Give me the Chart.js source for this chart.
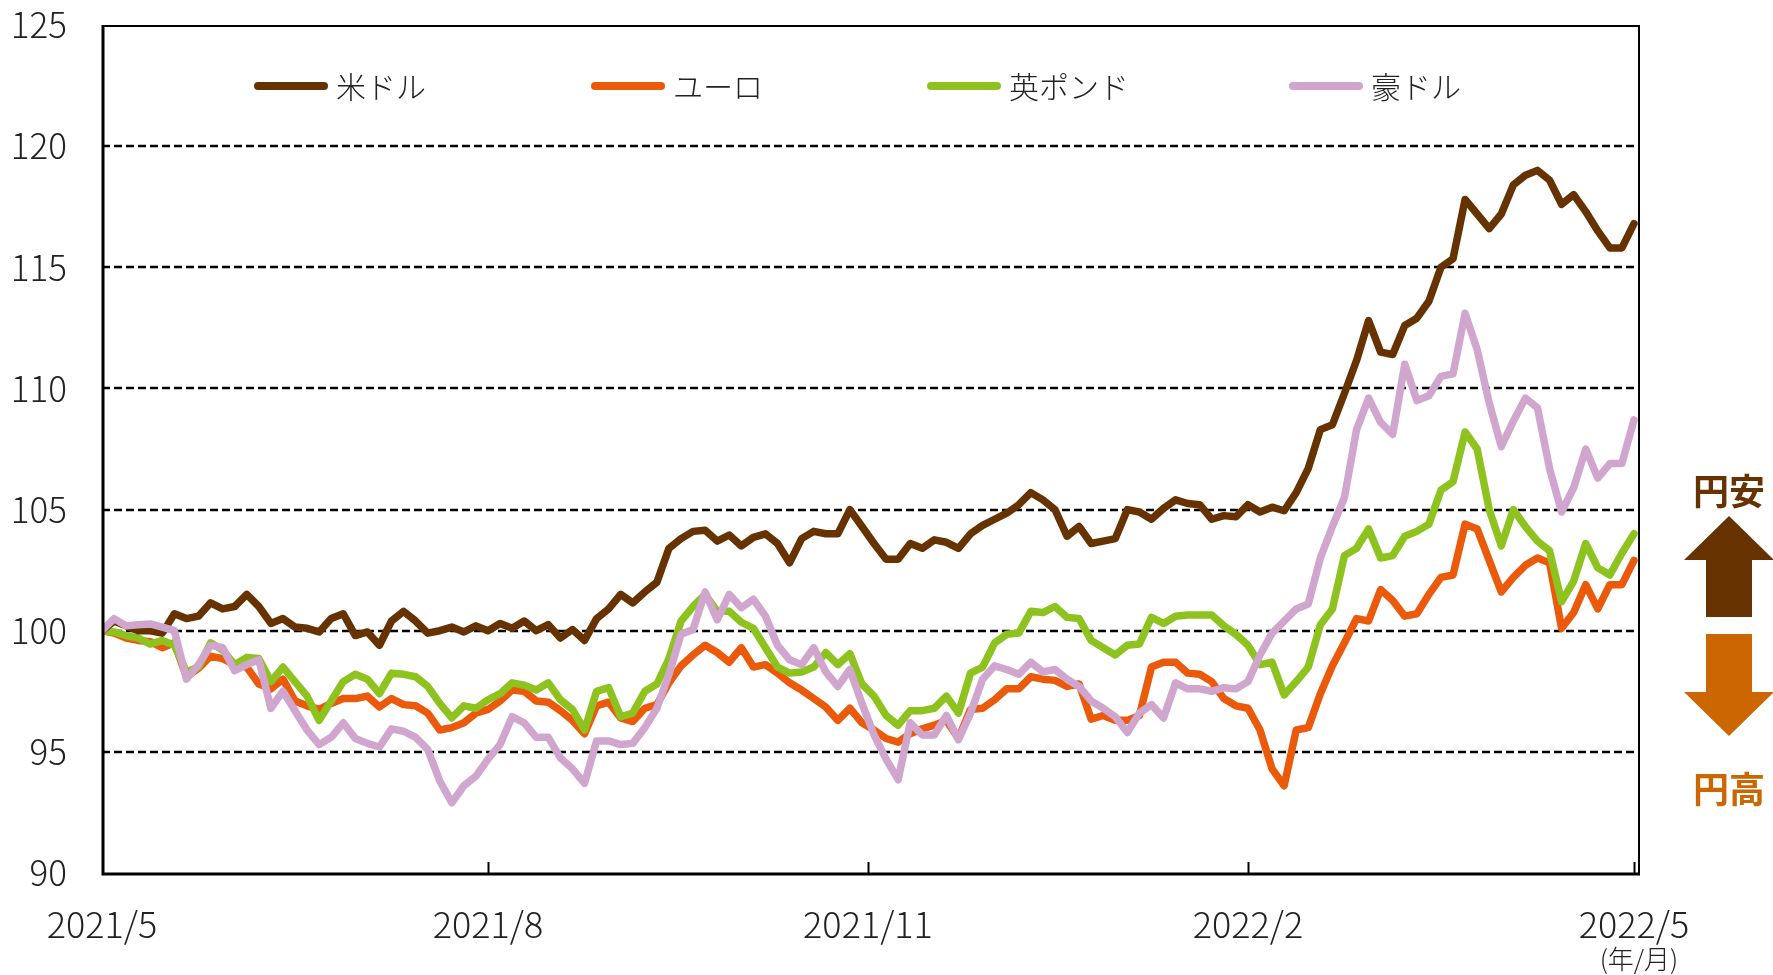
<!DOCTYPE html>
<html lang="ja">
<head>
<meta charset="utf-8">
<title>為替レートの推移</title>
<script src="https://cdn.jsdelivr.net/npm/chart.js@4.4.1/dist/chart.umd.min.js"></script>
<style>
  html, body { margin: 0; padding: 0; background: #fff; }
  #wrap { width: 1773px; height: 975px; }
</style>
</head>
<body>
<div id="wrap"><canvas id="fxChart" width="1773" height="975"></canvas></div>
<script>
// --- 対円レートの推移（2021/5 = 100、2営業日ごとに読み取り） ---

const STEP = 2; // 営業日
const seriesNames = ['米ドル', 'ユーロ', '英ポンド', '豪ドル'];
const seriesColors = ['#663300', '#EB5A0B', '#8DC21F', '#D0A6CE'];

const usd = [
    100.0, 100.4, 100.2, 100.0, 100.0, 99.9, 100.7, 100.5, 100.6, 101.15, 100.9, 101.0, 101.5, 101.0, 100.3, 100.5,
    100.15, 100.1, 99.95, 100.5, 100.7, 99.8, 99.95, 99.4, 100.4, 100.8, 100.4, 99.9, 100.0, 100.15, 99.95, 100.2,
    100.0, 100.3, 100.1, 100.4, 100.0, 100.25, 99.7, 100.05, 99.6, 100.5, 100.9, 101.5, 101.15, 101.6, 102.0, 103.4,
    103.8, 104.1, 104.15, 103.7, 103.95, 103.5, 103.85, 104.0, 103.6, 102.8, 103.8, 104.1, 104.0, 104.0, 105.0, 104.3,
    103.6, 102.95, 102.95, 103.6, 103.4, 103.75, 103.65, 103.4, 104.0, 104.35, 104.6, 104.85, 105.2, 105.7, 105.4, 105.0,
    103.9, 104.3, 103.6, 103.7, 103.8, 105.0, 104.9, 104.6, 105.05, 105.4, 105.25, 105.2, 104.6, 104.75, 104.7, 105.2,
    104.9, 105.1, 104.95, 105.7, 106.7, 108.3, 108.5, 109.8, 111.15, 112.8, 111.5, 111.4, 112.6, 112.9, 113.6, 115.0,
    115.35, 117.8, 117.2, 116.6, 117.2, 118.4, 118.8, 119.0, 118.6, 117.6, 118.0, 117.3, 116.5, 115.8, 115.8, 116.8
];
const eur = [
    100.0, 99.9, 99.7, 99.6, 99.55, 99.3, 99.5, 98.1, 98.45, 98.95, 98.85, 98.6, 98.5, 97.8, 97.6, 98.0,
    97.1, 96.9, 96.75, 97.0, 97.2, 97.2, 97.3, 96.85, 97.2, 96.95, 96.9, 96.6, 95.9, 96.0, 96.2, 96.6,
    96.75, 97.1, 97.55, 97.5, 97.1, 97.05, 96.7, 96.3, 95.75, 96.9, 97.05, 96.4, 96.25, 96.8, 96.95, 97.85,
    98.55, 99.0, 99.4, 99.1, 98.7, 99.3, 98.5, 98.6, 98.25, 97.85, 97.55, 97.2, 96.85, 96.3, 96.8, 96.2,
    95.9, 95.55, 95.4, 95.75, 95.95, 96.1, 96.3, 95.55, 96.75, 96.8, 97.15, 97.6, 97.6, 98.1, 98.0, 97.95,
    97.7, 97.8, 96.35, 96.5, 96.3, 96.3, 96.5, 98.5, 98.7, 98.7, 98.25, 98.2, 97.9, 97.2, 96.9, 96.8,
    95.9, 94.3, 93.6, 95.9, 96.0, 97.4, 98.55, 99.5, 100.5, 100.4, 101.7, 101.25, 100.6, 100.7, 101.5, 102.2,
    102.3, 104.4, 104.2, 102.9, 101.6, 102.2, 102.7, 103.0, 102.8, 100.1, 100.75, 101.9, 100.9, 101.9, 101.9, 102.9
];
const gbp = [
    100.0, 99.95, 99.8, 99.7, 99.45, 99.6, 99.4, 98.3, 98.5, 99.5, 99.2, 98.6, 98.9, 98.85, 97.9, 98.5,
    97.9, 97.3, 96.3, 97.1, 97.9, 98.2, 98.0, 97.4, 98.25, 98.2, 98.1, 97.7, 97.0, 96.4, 96.9, 96.8,
    97.15, 97.4, 97.85, 97.75, 97.55, 97.85, 97.15, 96.75, 95.9, 97.5, 97.65, 96.45, 96.6, 97.5, 97.8, 98.85,
    100.4, 101.0, 101.5, 100.8, 100.8, 100.35, 100.1, 99.3, 98.5, 98.25, 98.3, 98.5, 99.1, 98.6, 99.05, 97.8,
    97.3, 96.5, 96.1, 96.7, 96.7, 96.8, 97.3, 96.6, 98.25, 98.5, 99.5, 99.85, 99.9, 100.8, 100.75, 101.0,
    100.55, 100.5, 99.6, 99.3, 99.0, 99.4, 99.45, 100.55, 100.3, 100.6, 100.65, 100.65, 100.65, 100.2, 99.85, 99.4,
    98.6, 98.7, 97.35, 97.9, 98.5, 100.25, 100.9, 103.1, 103.4, 104.2, 103.0, 103.1, 103.9, 104.1, 104.4, 105.8,
    106.15, 108.2, 107.5, 105.0, 103.5, 105.0, 104.3, 103.7, 103.3, 101.2, 102.05, 103.6, 102.6, 102.3, 103.2, 104.0
];
const aud = [
    100.0, 100.5, 100.2, 100.25, 100.28, 100.15, 100.0, 98.0, 98.6, 99.4, 99.3, 98.35, 98.6, 98.8, 96.8, 97.5,
    96.7, 95.9, 95.3, 95.6, 96.2, 95.55, 95.35, 95.2, 95.95, 95.85, 95.6, 95.1, 93.8, 92.9, 93.6, 94.0,
    94.7, 95.3, 96.45, 96.2, 95.6, 95.6, 94.75, 94.3, 93.7, 95.45, 95.45, 95.3, 95.35, 96.0, 96.8, 98.2,
    99.85, 100.05, 101.6, 100.45, 101.5, 100.95, 101.3, 100.6, 99.4, 98.8, 98.6, 99.3, 98.3, 97.7, 98.4, 97.0,
    95.7, 94.7, 93.85, 96.2, 95.7, 95.7, 96.5, 95.5, 96.6, 98.0, 98.55, 98.4, 98.2, 98.7, 98.3, 98.4,
    98.0, 97.7, 97.1, 96.8, 96.45, 95.8, 96.6, 96.95, 96.4, 97.85, 97.6, 97.6, 97.5, 97.65, 97.6, 97.9,
    99.0, 99.9, 100.4, 100.9, 101.1, 103.0, 104.3, 105.5, 108.3, 109.6, 108.6, 108.1, 111.0, 109.5, 109.7, 110.5,
    110.6, 113.1, 111.6, 109.4, 107.6, 108.65, 109.6, 109.2, 106.7, 104.9, 105.9, 107.5, 106.3, 106.9, 106.9, 108.7
];

const tickPos = [0, 64, 127, 190, 254];
const tickLabels = ['2021/5', '2021/8', '2021/11', '2022/2', '2022/5'];
const yTicks = [90, 95, 100, 105, 110, 115, 120, 125];

const FONT = "'Noto Sans CJK JP', 'Noto Sans', sans-serif";

// 枠線・点線グリッド・凡例・円安/円高の矢印
const decorPlugin = {
    id: 'decor',
    beforeDatasetsDraw(chart) {
        const { ctx, chartArea: a, scales: { y } } = chart;
        ctx.save();
        ctx.strokeStyle = '#000';
        ctx.lineWidth = 2.5;
        ctx.setLineDash([8, 4]);
        yTicks.forEach(v => {
            if (v <= 90 || v >= 125) return;
            const py = Math.round(y.getPixelForValue(v));
            ctx.beginPath();
            ctx.moveTo(a.left, py);
            ctx.lineTo(a.right, py);
            ctx.stroke();
        });
        ctx.restore();
    },
    afterDatasetsDraw(chart) {
        const { ctx, chartArea: a, scales: { x } } = chart;
        ctx.save();
        ctx.strokeStyle = '#000';
        // 上・右は細線
        ctx.lineWidth = 2;
        ctx.beginPath();
        ctx.moveTo(a.left, a.top + 1);
        ctx.lineTo(a.right - 1, a.top + 1);
        ctx.lineTo(a.right - 1, a.bottom);
        ctx.stroke();
        // 左・下は太線
        ctx.lineWidth = 3;
        ctx.beginPath();
        ctx.moveTo(a.left + 1, a.top);
        ctx.lineTo(a.left + 1, a.bottom + 1);
        ctx.lineTo(a.right, a.bottom + 1);
        ctx.stroke();
        // 目盛り（内向き）
        ctx.lineWidth = 2;
        tickPos.slice(1).forEach(v => {
            const px = Math.round(x.getPixelForValue(v)) + 0.5;
            ctx.beginPath();
            ctx.moveTo(px, a.bottom);
            ctx.lineTo(px, a.bottom - 11);
            ctx.stroke();
        });
        ctx.restore();
    },
    afterDraw(chart) {
        const { ctx, scales: { x } } = chart;
        ctx.save();

        // 凡例
        const legendX = [254, 591, 927, 1289];
        const legendY = 86;
        ctx.font = `300 30px ${FONT}`;
        ctx.textBaseline = 'middle';
        ctx.textAlign = 'left';
        chart.data.datasets.forEach((ds, i) => {
            const lx = legendX[i];
            ctx.strokeStyle = ds.borderColor;
            ctx.lineWidth = 8;
            ctx.lineCap = 'round';
            ctx.beginPath();
            ctx.moveTo(lx + 4, legendY);
            ctx.lineTo(lx + 70, legendY);
            ctx.stroke();
            ctx.fillStyle = '#222';
            ctx.fillText(ds.label, lx + 82, legendY + 1);
        });

        // (年/月)
        ctx.font = `300 26px ${FONT}`;
        ctx.textAlign = 'center';
        ctx.fillStyle = '#222';
        ctx.fillText('(年/月)', x.getPixelForValue(tickPos[tickPos.length - 1]) + 5, 959);

        // 円安 / 円高
        const cx = 1729;
        ctx.font = `bold 36px ${FONT}`;
        ctx.fillStyle = '#663300';
        ctx.fillText('円安', cx, 491);
        ctx.fillStyle = '#CC6600';
        ctx.fillText('円高', cx, 789);

        // 上向き矢印
        ctx.fillStyle = '#663300';
        ctx.beginPath();
        ctx.moveTo(cx, 516);
        ctx.lineTo(cx + 45, 560);
        ctx.lineTo(cx + 23, 560);
        ctx.lineTo(cx + 23, 617);
        ctx.lineTo(cx - 23, 617);
        ctx.lineTo(cx - 23, 560);
        ctx.lineTo(cx - 45, 560);
        ctx.closePath();
        ctx.fill();

        // 下向き矢印
        ctx.fillStyle = '#CC6600';
        ctx.beginPath();
        ctx.moveTo(cx - 23, 634);
        ctx.lineTo(cx + 23, 634);
        ctx.lineTo(cx + 23, 692);
        ctx.lineTo(cx + 45, 692);
        ctx.lineTo(cx, 736);
        ctx.lineTo(cx - 45, 692);
        ctx.lineTo(cx - 23, 692);
        ctx.closePath();
        ctx.fill();

        ctx.restore();
    }
};

function toPoints(values) {
    return values.map((v, i) => ({ x: i * STEP, y: v }));
}

const allSeries = [usd, eur, gbp, aud];
const drawOrder = [1, 3, 2, 0]; // 豪ドルを最前面に

new Chart(document.getElementById('fxChart'), {
    type: 'line',
    data: {
        datasets: allSeries.map((vals, i) => ({
            label: seriesNames[i],
            data: toPoints(vals),
            borderColor: seriesColors[i],
            backgroundColor: seriesColors[i],
            borderWidth: 7.5,
            borderJoinStyle: 'round',
            borderCapStyle: 'round',
            pointRadius: 0,
            tension: 0,
            order: drawOrder[i]
        }))
    },
    options: {
        responsive: false,
        devicePixelRatio: 1,
        animation: false,
        layout: { padding: { top: 25, right: 133, left: 0, bottom: 0 } },
        plugins: {
            legend: { display: false },
            tooltip: { enabled: false }
        },
        scales: {
            x: {
                type: 'linear',
                min: 0,
                max: 255,
                grid: { display: false },
                border: { display: false },
                afterBuildTicks: s => { s.ticks = tickPos.map(v => ({ value: v })); },
                afterFit: s => { s.height = 102; },
                ticks: {
                    autoSkip: false,
                    maxRotation: 0,
                    padding: 22,
                    color: '#222',
                    font: { family: FONT, size: 36, weight: 300 },
                    callback: (v, i) => tickLabels[i]
                }
            },
            y: {
                min: 90,
                max: 125,
                grid: { display: false },
                border: { display: false },
                afterBuildTicks: s => { s.ticks = yTicks.map(v => ({ value: v })); },
                afterFit: s => {
                    s.width = 102;
                    s.paddingTop = 0;
                    s.paddingBottom = 0;
                },
                ticks: {
                    padding: 27,
                    color: '#222',
                    font: { family: FONT, size: 35, weight: 300 }
                }
            }
        }
    },
    plugins: [decorPlugin]
});
</script>
</body>
</html>
